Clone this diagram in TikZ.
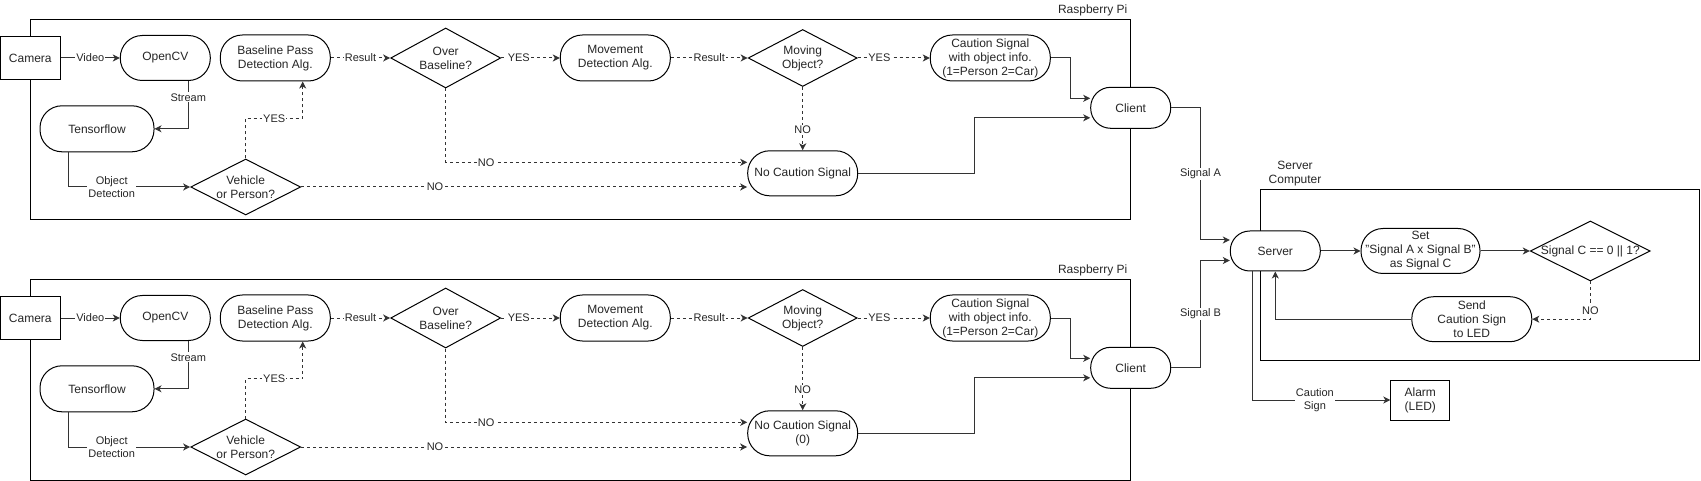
\documentclass[tikz,border=0pt]{standalone}
\usepackage{fontspec}
\setmainfont{Liberation Sans}
\usetikzlibrary{arrows.meta,shapes.geometric,calc}
\newcommand{\myNodeFont}{\fontsize{12pt}{14pt}\selectfont}
\newcommand{\myLblFont}{\fontsize{11pt}{13pt}\selectfont}
\tikzset{
  box/.style={draw=black, line width=1pt, fill=white, text=black!85, font=\myNodeFont, align=center, inner sep=0pt},
  pill/.style={box, rounded corners=#1},
  pill/.default=22pt,
  dia/.style={draw=black, line width=1pt, fill=white, diamond, inner sep=0pt},
  dtext/.style={font=\myNodeFont, text=black!85, align=center},
  lbl/.style={fill=white, inner sep=1pt, font=\myLblFont, text=black!85, align=center},
  cont/.style={draw=black, line width=1pt},
  ctitle/.style={font=\myNodeFont, text=black!85, align=center},
  conn/.style={draw=black!80, line width=1pt, -{Stealth[length=7pt,width=7pt,inset=2pt]}},
  dconn/.style={conn, dash pattern=on 3pt off 3pt}
}
\begin{document}
\begin{tikzpicture}[x=1pt,y=-1pt]
\useasboundingbox (0,0) rectangle (1701,481);

% ---------- two Raspberry Pi sections ----------
\foreach \s/\dy/\nctext in {a/0/{No Caution Signal}, b/260/{No Caution Signal\\(0)}} {
\begin{scope}[shift={(0,\dy)}]
  \draw[cont] (30.7,20) rectangle (1130.7,220);
  \node[ctitle] (rp\s) at (1092.7,10.7) {Raspberry Pi};

  \node[box, minimum width=60pt, minimum height=43pt] (cam\s) at (30.3,58) {Camera};
  \node[pill, minimum width=90pt, minimum height=45pt] (ocv\s) at (165.3,58) {OpenCV};
  \node[pill, minimum width=110pt, minimum height=46pt] (bpd\s) at (275.3,58) {Baseline Pass\\Detection Alg.};
  \node[dia, minimum width=110pt, minimum height=60pt, label={[dtext]center:{Over\\Baseline?}}] (ob\s) at (445.7,58) {};
  \node[pill, minimum width=110pt, minimum height=46pt] (mov\s) at (615.3,58) {Movement\\Detection Alg.};
  \node[dia, minimum width=109pt, minimum height=57pt, label={[dtext]center:{Moving\\Object?}}] (mo\s) at (802.7,58) {};
  \node[pill, minimum width=120pt, minimum height=46pt] (cs\s) at (990.3,58) {Caution Signal\\with object info.\\(1=Person 2=Car)};
  \node[pill=20pt, minimum width=80pt, minimum height=41pt] (cl\s) at (1130.7,107.8) {Client};
  \node[pill, minimum width=114pt, minimum height=46pt] (tf\s) at (97,128.8) {Tensorflow};
  \node[dia, minimum width=110pt, minimum height=56pt, label={[dtext]center:{Vehicle\\or Person?}}] (veh\s) at (245.7,187) {};
  \node[pill, minimum width=110pt, minimum height=45pt] (nc\s) at (802.7,173.3) {\nctext};

  \draw[conn] (cam\s) -- node[lbl]{Video} (ocv\s);
  \draw[conn] ([xshift=23pt]ocv\s.south) |- node[lbl,pos=0.17]{Stream} (tf\s.east);
  \draw[conn] ([xshift=-28.7pt]tf\s.south) |- node[lbl,pos=0.678]{Object\\Detection} (veh\s.west);
  \draw[dconn] (veh\s.north) -- ++(0,-40) -| node[lbl,pos=0.25]{YES} ([xshift=27.4pt]bpd\s.south);
  \draw[dconn] (bpd\s) -- node[lbl]{Result} (ob\s);
  \draw[dconn] (ob\s) -- node[lbl,pos=0.3]{YES} (mov\s);
  \draw[dconn] (mov\s) -- node[lbl]{Result} (mo\s);
  \draw[dconn] (mo\s) -- node[lbl,pos=0.3]{YES} (cs\s);
  \draw[dconn] (mo\s) -- node[lbl,pos=0.68]{NO} (nc\s);
  \draw[dconn] (ob\s.south) |- node[lbl,pos=0.567]{NO} ([yshift=11pt]nc\s.west);
  \draw[dconn] (veh\s.east) -- node[lbl,pos=0.3]{NO} (veh\s.east -| nc\s.west);
  \draw[conn] (cs\s.east) -- ++(20,0) |- ([yshift=9.5pt]cl\s.west);
  \draw[conn] (nc\s.east) -- ++(116.7,0) |- ([yshift=-10pt]cl\s.west);
\end{scope}
}

% ---------- Server computer ----------
\draw[cont] (1260,190) rectangle (1699.5,360);
\node[ctitle] (sctitle) at (1295,174) {Server\\Computer};

\node[pill=19.5pt, minimum width=90pt, minimum height=40pt] (srv) at (1275.3,251) {Server};
\node[pill, minimum width=119pt, minimum height=45pt] (set) at (1420.5,251) {Set\\"Signal A x Signal B"\\as Signal C};
\node[dia, minimum width=120pt, minimum height=60pt, label={[dtext]center:{Signal C == 0 || 1?}}] (dia) at (1590.3,251) {};
\node[pill, minimum width=120pt, minimum height=45pt] (send) at (1471.8,319.2) {Send\\Caution Sign\\to LED};
\node[box, minimum width=59pt, minimum height=40pt] (alarm) at (1420.3,400) {Alarm\\(LED)};

\draw[conn] (cla.east) -- ++(29.3,0) |- node[lbl,pos=0.25]{Signal A} ([yshift=11pt]srv.west);
\draw[conn] (clb.east) -- ++(29.3,0) |- node[lbl,pos=0.25]{Signal B} ([yshift=-9.5pt]srv.west);
\draw[conn] (srv) -- (set);
\draw[conn] (set) -- (dia);
\draw[dconn] (dia.south) |- node[lbl,pos=0.39]{NO} (send.east);
\draw[conn] (send.west) -| (srv.south);
\draw[conn] ([xshift=-22.6pt]srv.south) |- node[lbl,pos=0.726]{Caution\\Sign} (alarm.west);
\end{tikzpicture}
\end{document}
